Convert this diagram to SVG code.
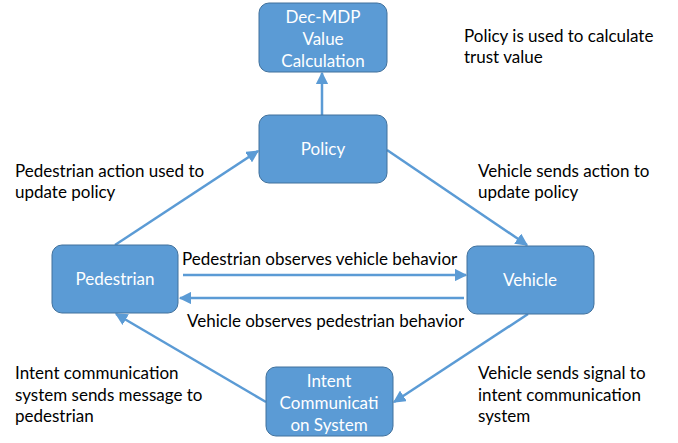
<svg xmlns="http://www.w3.org/2000/svg" width="678" height="443" viewBox="0 0 678 443">
<style>
.node rect { fill: #5B9BD5; stroke: #41719C; stroke-width: 1; }
.nt { font-family: Lato, "Liberation Sans", sans-serif; font-size: 17px; fill: #FFFFFF; text-anchor: middle; }
.lbl { font-family: Lato, "Liberation Sans", sans-serif; font-size: 17px; fill: #000000; }
.conn line { stroke: #5B9BD5; stroke-width: 2.5; marker-end: url(#ah); }
</style>
<defs>
<marker id="ah" viewBox="0 0 10 10" refX="9" refY="5" markerWidth="5" markerHeight="5" orient="auto" markerUnits="strokeWidth">
<path d="M0,0 L10,5 L0,10 z" fill="#5B9BD5"/>
</marker>
</defs>
<rect width="678" height="443" fill="#FFFFFF"/>
<g id="connectors" class="conn">
<line x1="322" y1="115" x2="322" y2="73"/>
<line x1="115" y1="245" x2="258" y2="151"/>
<line x1="387" y1="150" x2="527" y2="245"/>
<line x1="183" y1="275" x2="466" y2="275"/>
<line x1="464" y1="298" x2="180" y2="298"/>
<line x1="528" y1="314" x2="394" y2="402"/>
<line x1="266" y1="402" x2="116" y2="314"/>
</g>
<g id="dec-mdp" class="node">
<rect x="259" y="3" width="128" height="69" rx="10"/>
<text class="nt" x="323" y="23">Dec-MDP</text>
<text class="nt" x="323" y="45">Value</text>
<text class="nt" x="323" y="67">Calculation</text>
</g>
<g id="policy" class="node">
<rect x="259" y="115" width="128" height="68" rx="10"/>
<text class="nt" x="323" y="155">Policy</text>
</g>
<g id="pedestrian" class="node">
<rect x="52" y="245" width="126" height="68" rx="10"/>
<text class="nt" x="115" y="285">Pedestrian</text>
</g>
<g id="vehicle" class="node">
<rect x="467" y="246" width="127" height="68" rx="10"/>
<text class="nt" x="530" y="286">Vehicle</text>
</g>
<g id="intent" class="node">
<rect x="266" y="367" width="127" height="69" rx="10"/>
<text class="nt" x="329" y="387">Intent</text>
<text class="nt" x="329" y="409">Communicati</text>
<text class="nt" x="329" y="431">on System</text>
</g>
<g id="labels">
<text class="lbl" x="464" y="42">Policy is used to calculate</text>
<text class="lbl" x="464" y="63">trust value</text>
<text class="lbl" x="15" y="177">Pedestrian action used to</text>
<text class="lbl" x="15" y="198">update policy</text>
<text class="lbl" x="478" y="177">Vehicle sends action to</text>
<text class="lbl" x="478" y="198">update policy</text>
<text class="lbl" x="182" y="265">Pedestrian observes vehicle behavior</text>
<text class="lbl" x="187" y="327">Vehicle observes pedestrian behavior</text>
<text class="lbl" x="15" y="379">Intent communication</text>
<text class="lbl" x="15" y="401">system sends message to</text>
<text class="lbl" x="15" y="422">pedestrian</text>
<text class="lbl" x="478" y="379">Vehicle sends signal to</text>
<text class="lbl" x="478" y="401">intent communication</text>
<text class="lbl" x="478" y="422">system</text>
</g>
</svg>
